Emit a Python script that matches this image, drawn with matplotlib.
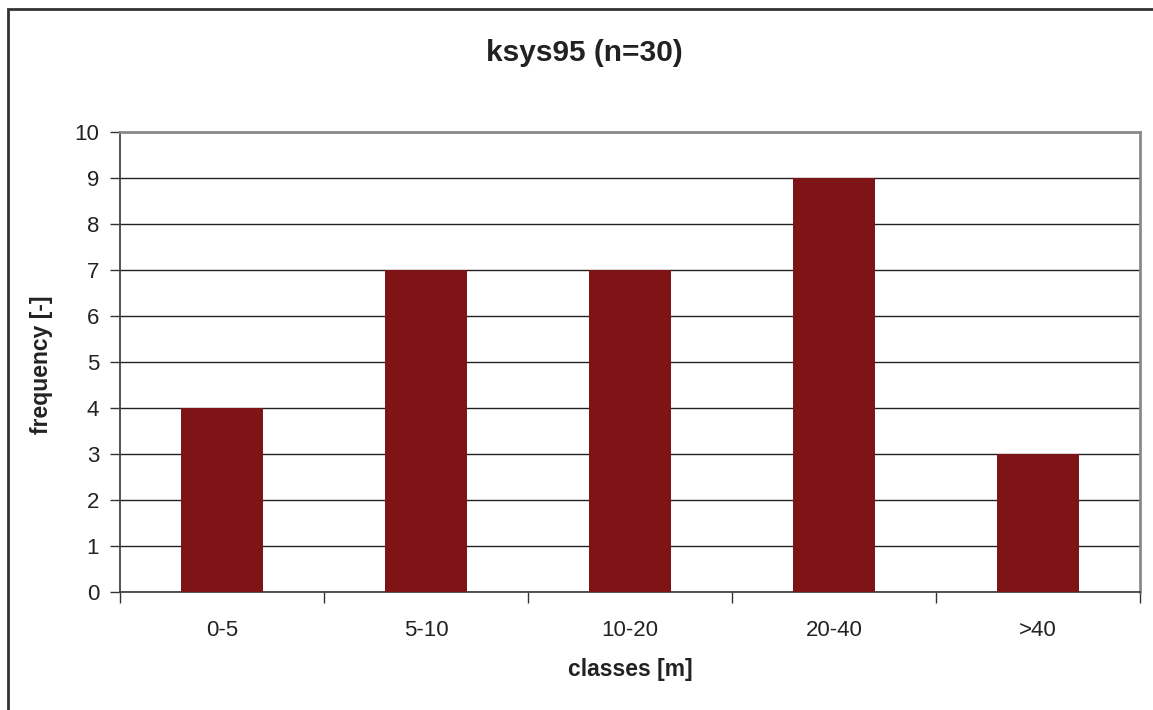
import numpy as np
import matplotlib
matplotlib.use("Agg")
import matplotlib.pyplot as plt
from matplotlib.patches import Rectangle

# frequency per distance class
classes = ["0-5", "5-10", "10-20", "20-40", ">40"]
frequency = [4, 7, 7, 9, 3]
yticks = list(range(0, 11))

plt.rcParams["font.family"] = ["Liberation Sans", "DejaVu Sans"]

fig = plt.figure(figsize=(11.53, 7.1), dpi=100)
ax = fig.add_axes([0.1041, 0.1662, 0.8846, 0.6479])

x = np.arange(len(classes))
ax.bar(x, frequency, width=0.405, color="#7f1416", zorder=3)

ax.set_xlim(-0.5, len(classes) - 0.5)
ax.set_ylim(0, 10)
ax.set_yticks(yticks)
ax.yaxis.grid(True, color="#222222", linewidth=1.0, zorder=0)

# boundaries between classes get the tick marks, labels sit in the middle
ax.set_xticks(np.arange(len(classes) + 1) - 0.5)
ax.set_xticklabels([])
ax.set_xticks(x, minor=True)
ax.set_xticklabels(classes, minor=True)
ax.tick_params(axis="x", which="major", length=8, width=1, color="#333333", direction="out")
ax.tick_params(axis="x", which="minor", length=0, pad=20, labelsize=16, labelcolor="#222222")
ax.tick_params(axis="y", length=7, width=1, color="#333333", pad=8, labelsize=16, labelcolor="#222222")

for side in ["left", "bottom"]:
    ax.spines[side].set_color("#444444")
    ax.spines[side].set_linewidth(1.3)
for side in ["top", "right"]:
    ax.spines[side].set_color("#8a8a8a")
    ax.spines[side].set_linewidth(2)

fig.text(0.507, 0.925, "ksys95 (n=30)", ha="center", va="center", fontsize=21.5,
         fontweight="bold", color="#222222")
fig.text(0.547, 0.057, "classes [m]", ha="center", va="center", fontsize=16.5,
         fontweight="bold", color="#222222")
fig.text(0.036, 0.486, "frequency [-]", ha="center", va="center", rotation=90,
         fontsize=16.5, fontweight="bold", color="#222222")

# outer chart frame
fig.patches.append(Rectangle((7.5 / 1153, -0.1), 1.2, (710 - 8.5) / 710 + 0.1,
                             transform=fig.transFigure, fill=False,
                             edgecolor="#333333", linewidth=2))

fig.savefig("out.png", dpi=100)
